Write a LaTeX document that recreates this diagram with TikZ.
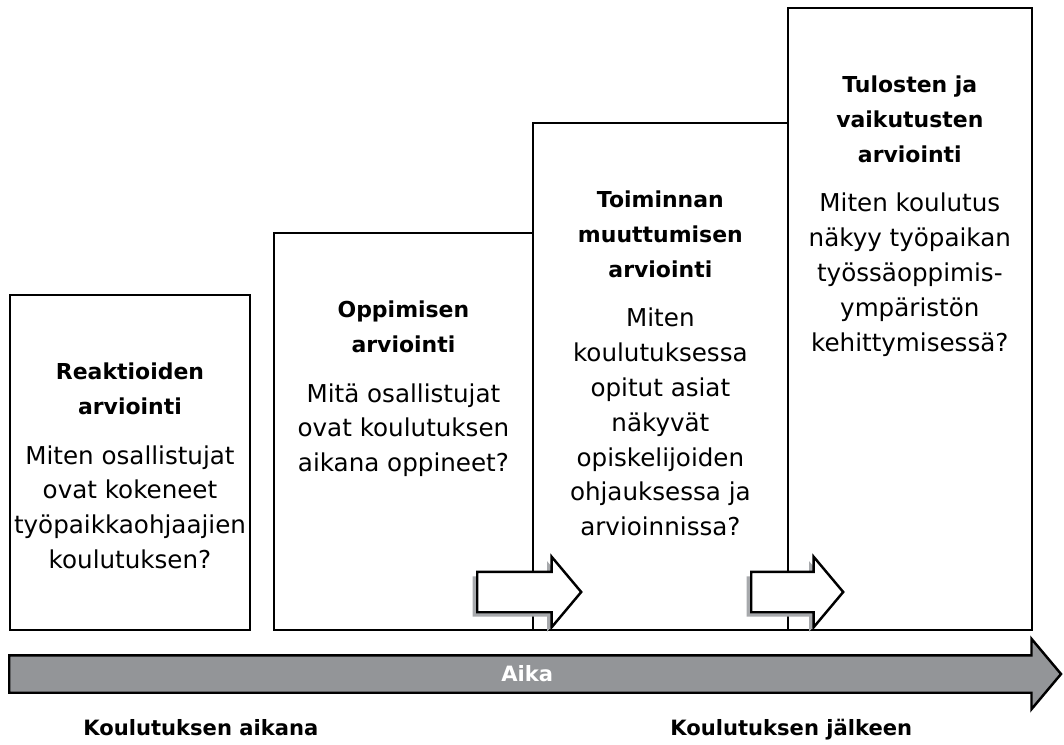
\documentclass[tikz,border=0pt]{standalone}
\usepackage{fontspec}
\setmainfont{DejaVu Sans}
\usetikzlibrary{positioning,shapes.arrows,shadows}
\definecolor{timegray}{HTML}{939598}
\definecolor{shadowgray}{HTML}{A7A9AC}
\tikzset{
  stage/.style={
    draw,
    line width=1.4pt,
    outer sep=0pt,
    inner sep=0pt
  },
  stagetitle/.style={
    align=center,
    inner sep=0pt,
    font=\fontsize{12.5}{19.8}\selectfont\bfseries
  },
  stagetext/.style={
    align=center,
    inner sep=0pt,
    font=\fontsize{14}{19.8}\selectfont
  },
  nextarrow/.style={
    single arrow,
    draw,
    fill=white,
    line width=1.4pt,
    inner sep=0pt,
    text height=0.76cm,
    text depth=0pt,
    single arrow head extend=0.3cm,
    single arrow tip angle=100,
    drop shadow={shadow xshift=-0.09cm, shadow yshift=-0.09cm, fill=shadowgray, opacity=1}
  },
  timeline/.style={
    single arrow,
    draw,
    fill=timegray,
    line width=1.4pt,
    inner sep=0pt,
    text height=0.49cm,
    text depth=0.21cm,
    single arrow head extend=0.33cm,
    single arrow tip angle=100,
    text=white,
    font=\fontsize{12}{14}\selectfont\bfseries
  },
  phase/.style={
    inner sep=0pt,
    font=\fontsize{12}{14}\selectfont\bfseries
  }
}

\begin{document}
\begin{tikzpicture}[x=0.02cm, y=-0.02cm]
  \useasboundingbox (0,0) rectangle (1064,744);

  % portaat
  \node[stage, minimum width=4.8cm, minimum height=6.7cm, anchor=south west] (reak) at (10,630) {};
  \node[stage, minimum width=5.18cm, minimum height=7.94cm, right=4.8mm of reak.south east, anchor=south west] (oppi) {};
  \node[stage, minimum width=5.1cm, minimum height=10.14cm, right=0mm of oppi.south east, anchor=south west] (toim) {};
  \node[stage, minimum width=4.88cm, minimum height=12.44cm, right=0mm of toim.south east, anchor=south west] (tulo) {};

  \node[stagetitle, below=1.35cm of reak.north] (reakt) {Reaktioiden\\arviointi};
  \node[stagetext, below=6mm of reakt] (reakq) {Miten osallistujat\\ovat kokeneet\\työpaikkaohjaajien\\koulutuksen?};

  \node[stagetitle, below=1.35cm of oppi.north] (oppit) {Oppimisen\\arviointi};
  \node[stagetext, below=6mm of oppit] (oppiq) {Mitä osallistujat\\ovat koulutuksen\\aikana oppineet?};

  \node[stagetitle, below=1.35cm of toim.north] (toimt) {Toiminnan\\muuttumisen\\arviointi};
  \node[stagetext, below=6mm of toimt] (toimq) {Miten\\koulutuksessa\\opitut asiat\\näkyvät\\opiskelijoiden\\ohjauksessa ja\\arvioinnissa?};

  \node[stagetitle, below=1.35cm of tulo.north] (tulot) {Tulosten ja\\vaikutusten\\arviointi};
  \node[stagetext, below=6mm of tulot] (tuloq) {Miten koulutus\\näkyy työpaikan\\työssäoppimis-\\ympäristön\\kehittymisessä?};

  % nuolet
  \node[nextarrow, minimum height=2.08cm, anchor=tail] (next1) at (476,592) {};
  \node[nextarrow, minimum height=1.84cm, anchor=tail] (next2) at (750,592) {};

  % aika
  \node[timeline, minimum height=21.04cm, anchor=tail] (aika) at (8,674) {Aika};
  \node[phase, anchor=base west] (aikana) at (83,735) {Koulutuksen aikana};
  \node[phase, anchor=base west] (jalkeen) at (670,735) {Koulutuksen jälkeen};
\end{tikzpicture}
\end{document}
